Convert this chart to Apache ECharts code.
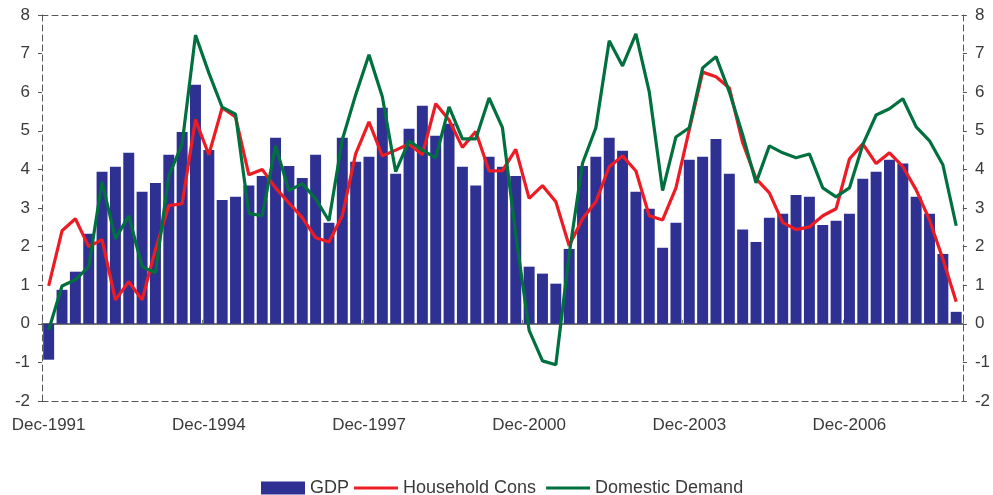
<!DOCTYPE html>
<html lang="en">
<head>
    <meta charset="UTF-8">
    <title>GDP, Household Cons, Domestic Demand</title>
    <script src="https://cdn.jsdelivr.net/npm/echarts@6/dist/echarts.min.js"></script>
    <style>
        html, body { margin: 0; padding: 0; background: #fff; }
        #main { width: 993px; height: 495px; }
    </style>
</head>
<body>
<div id="main"></div>
<script>
    // quarterly, Dec-1991 .. Dec-2008
    const months = ['Mar', 'Jun', 'Sep', 'Dec'];
    const categories = ['Dec-1991'];
    for (let y = 1992; y <= 2008; y++) {
        months.forEach(m => categories.push(m + '-' + y));
    }

    const gdp = [
        -0.93, 0.88, 1.35, 2.33, 3.94, 4.07, 4.43, 3.42, 3.65, 4.38,
        4.97, 6.19, 4.50, 3.21, 3.29, 3.58, 3.83, 4.82, 4.09, 3.78,
        4.38, 2.62, 4.82, 4.20, 4.33, 5.60, 3.89, 5.05, 5.65, 4.87,
        5.18, 4.07, 3.58, 4.33, 4.07, 3.83, 1.48, 1.30, 1.04, 1.94,
        4.09, 4.33, 4.82, 4.48, 3.42, 2.98, 1.97, 2.62, 4.25, 4.33,
        4.79, 3.89, 2.44, 2.12, 2.75, 2.85, 3.34, 3.29, 2.56, 2.67,
        2.85, 3.76, 3.94, 4.25, 4.15, 3.29, 2.85, 1.81, 0.31
    ];
    const householdCons = [
        0.98, 2.41, 2.72, 2.00, 2.18, 0.62, 1.09, 0.62, 1.92, 3.06,
        3.11, 5.29, 4.38, 5.60, 5.36, 3.86, 4.00, 3.52, 3.13, 2.75,
        2.23, 2.12, 2.80, 4.40, 5.23, 4.35, 4.50, 4.66, 4.38, 5.70,
        5.28, 4.57, 4.98, 3.96, 3.97, 4.52, 3.25, 3.58, 3.16, 2.02,
        2.72, 3.16, 4.07, 4.35, 3.96, 2.80, 2.69, 3.52, 5.03, 6.52,
        6.40, 6.11, 4.69, 3.76, 3.39, 2.62, 2.44, 2.51, 2.80, 2.98,
        4.27, 4.66, 4.15, 4.43, 4.07, 3.47, 2.69, 1.68, 0.57
    ];
    const domesticDemand = [
        -0.16, 0.98, 1.14, 1.48, 3.68, 2.20, 2.80, 1.48, 1.32, 3.83,
        4.66, 7.48, 6.50, 5.61, 5.43, 2.86, 2.80, 4.61, 3.45, 3.63,
        3.24, 2.67, 4.77, 5.93, 6.97, 5.88, 3.94, 4.74, 4.50, 4.30,
        5.62, 4.79, 4.79, 5.85, 5.08, 2.30, -0.17, -0.96, -1.06, 1.80,
        4.16, 5.08, 7.33, 6.68, 7.51, 6.01, 3.45, 4.84, 5.08, 6.63,
        6.92, 6.01, 4.90, 3.65, 4.61, 4.43, 4.30, 4.40, 3.52, 3.29,
        3.52, 4.64, 5.41, 5.57, 5.83, 5.10, 4.74, 4.12, 2.54
    ];

    const textColor = '#3a3a3a';
    const font = 'Liberation Sans, Arial, sans-serif';
    const dashed = {show: true, lineStyle: {color: '#555', width: 1, type: [6, 4]}};
    const legendText = {color: textColor, fontSize: 18, fontFamily: font};

    const valueAxis = (pos) => ({
        type: 'value',
        position: pos,
        min: -2,
        max: 8,
        interval: 1,
        axisLine: dashed,
        axisTick: {show: true, length: 4, lineStyle: {color: '#555'}},
        splitLine: {show: false},
        axisLabel: {color: textColor, fontSize: 17, fontFamily: font, margin: 12}
    });

    const option = {
        animation: false,
        backgroundColor: '#fff',
        grid: {left: 42, right: 30, top: 15, bottom: 94},
        legend: [
            {
                top: 479,
                left: 261,
                padding: 0,
                itemWidth: 44,
                itemHeight: 13,
                textStyle: legendText,
                data: [{name: 'GDP', icon: 'rect'}]
            },
            {
                top: 479,
                left: 354,
                padding: 0,
                itemWidth: 44,
                itemHeight: 3,
                itemGap: 10,
                textStyle: legendText,
                data: [
                    {name: 'Household Cons', icon: 'rect'},
                    {name: 'Domestic Demand', icon: 'rect'}
                ]
            }
        ],
        xAxis: [
            {
                type: 'category',
                data: categories,
                position: 'bottom',
                axisLine: Object.assign({onZero: false}, dashed),
                axisTick: {show: false},
                axisLabel: {interval: 11, color: textColor, fontSize: 17, fontFamily: font, margin: 16}
            },
            {
                type: 'category',
                data: categories,
                position: 'top',
                axisLine: Object.assign({onZero: false}, dashed),
                axisTick: {show: false},
                axisLabel: {show: false}
            },
            {
                type: 'category',
                data: categories,
                position: 'bottom',
                axisLine: {show: true, onZero: true, lineStyle: {color: '#444', width: 1.5}},
                axisTick: {show: true, inside: true, interval: 11, length: 4, lineStyle: {color: '#777'}},
                axisLabel: {show: false}
            }
        ],
        yAxis: [valueAxis('left'), valueAxis('right')],
        series: [
            {
                name: 'GDP',
                type: 'bar',
                data: gdp,
                barCategoryGap: '18%',
                itemStyle: {color: '#2E3192'}
            },
            {
                name: 'Household Cons',
                type: 'line',
                data: householdCons,
                showSymbol: false,
                symbol: 'none',
                lineStyle: {color: '#ED1C24', width: 3.2},
                itemStyle: {color: '#ED1C24'}
            },
            {
                name: 'Domestic Demand',
                type: 'line',
                data: domesticDemand,
                showSymbol: false,
                symbol: 'none',
                lineStyle: {color: '#00703F', width: 3.2},
                itemStyle: {color: '#00703F'}
            }
        ]
    };

    const chart = echarts.init(document.getElementById('main'));
    chart.setOption(option);
</script>
</body>
</html>
